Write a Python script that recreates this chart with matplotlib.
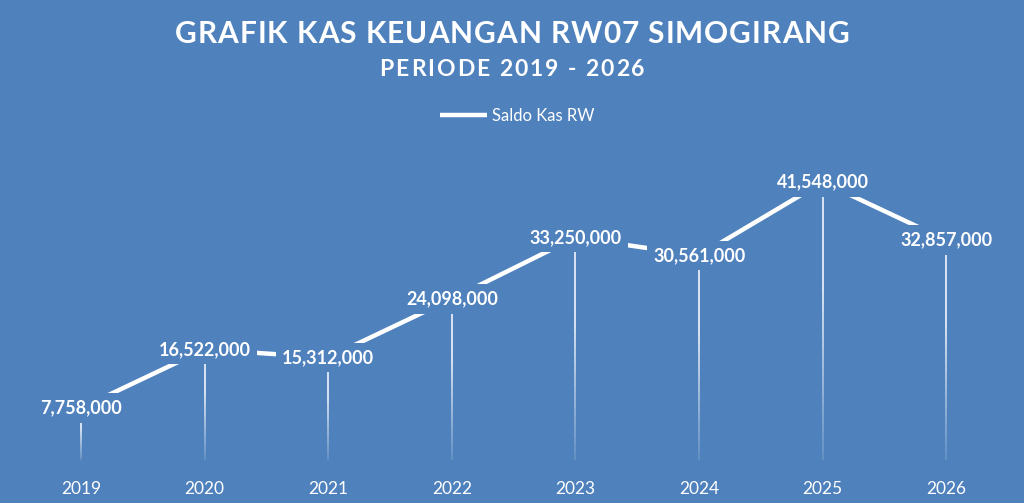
import matplotlib
matplotlib.use('Agg')
import matplotlib.pyplot as plt
import numpy as np
from matplotlib.collections import LineCollection

years = ['2019', '2020', '2021', '2022', '2023', '2024', '2025', '2026']
saldo = [7758000, 16522000, 15312000, 24098000, 33250000, 30561000, 41548000, 32857000]

title = 'GRAFIK KAS KEUANGAN RW07 SIMOGIRANG'
subtitle = 'PERIODE 2019 - 2026'

bg = '#4F81BD'
plt.rcParams['font.family'] = ['Lato', 'DejaVu Sans']

fig = plt.figure(figsize=(10.24, 5.03), dpi=100, facecolor=bg)
ax = fig.add_axes([0.0186, 0.0855, 0.966, 0.5984], facecolor=bg)


def spaced_text(s, y, size, gap):
    # text with extra letter spacing (gap in pixels), centred in the figure
    r = fig.canvas.get_renderer()
    W = fig.bbox.width
    widths = []
    for ch in s:
        if ch == ' ':
            t = fig.text(0, 0, 'a a', fontsize=size, fontweight='bold')
            t2 = fig.text(0, 0, 'aa', fontsize=size, fontweight='bold')
            w = t.get_window_extent(r).width - t2.get_window_extent(r).width
            t.remove(); t2.remove()
        else:
            t = fig.text(0, 0, ch, fontsize=size, fontweight='bold')
            w = t.get_window_extent(r).width
            t.remove()
        widths.append(w)
    total = sum(widths) + gap * (len(s) - 1)
    xpos = (W - total) / 2
    for ch, w in zip(s, widths):
        if ch != ' ':
            fig.text(xpos / W, y, ch, ha='left', va='center', color='white',
                     fontsize=size, fontweight='bold')
        xpos += w + gap


x = np.arange(len(years))
ax.plot(x, saldo, color='white', lw=3.2, label='Saldo Kas RW', zorder=2,
        solid_capstyle='butt')

# drop lines, fading towards the axis
segs, cols = [], []
n = 30
for xi, yi in zip(x, saldo):
    ys = np.linspace(0, yi, n + 1)
    for k in range(n):
        segs.append([(xi, ys[k]), (xi, ys[k + 1])])
        a = 0.15 + 0.85 * min(1.0, (k + 0.5) / n * 1.6)
        cols.append((1, 1, 1, a))
ax.add_collection(LineCollection(segs, colors=cols, linewidths=1.1, zorder=1))

for xi, yi in zip(x, saldo):
    ax.text(xi, yi, f'{yi:,}', ha='center', va='center', color='white',
            fontsize=13, fontweight='bold', zorder=3,
            bbox=dict(boxstyle='square,pad=0.35', fc=bg, ec='none'))

ax.set_xlim(-0.5, len(years) - 0.5)
ax.set_ylim(0, 45000000)
ax.set_xticks(x)
ax.set_xticklabels(years, color='white', fontsize=12.5)
ax.tick_params(axis='x', length=0, pad=15)
ax.set_yticks([])
for s in ax.spines.values():
    s.set_visible(False)

spaced_text(title, 0.932, 21.5, 1.0)
spaced_text(subtitle, 0.862, 16.5, 2.0)

leg = ax.legend(loc='center', bbox_to_anchor=(0.505, 0.769), bbox_transform=fig.transFigure,
                frameon=False, fontsize=12, handlelength=2.8, handletextpad=0.3)
for t in leg.get_texts():
    t.set_color('white')

fig.savefig('out.png', dpi=100, facecolor=bg)
